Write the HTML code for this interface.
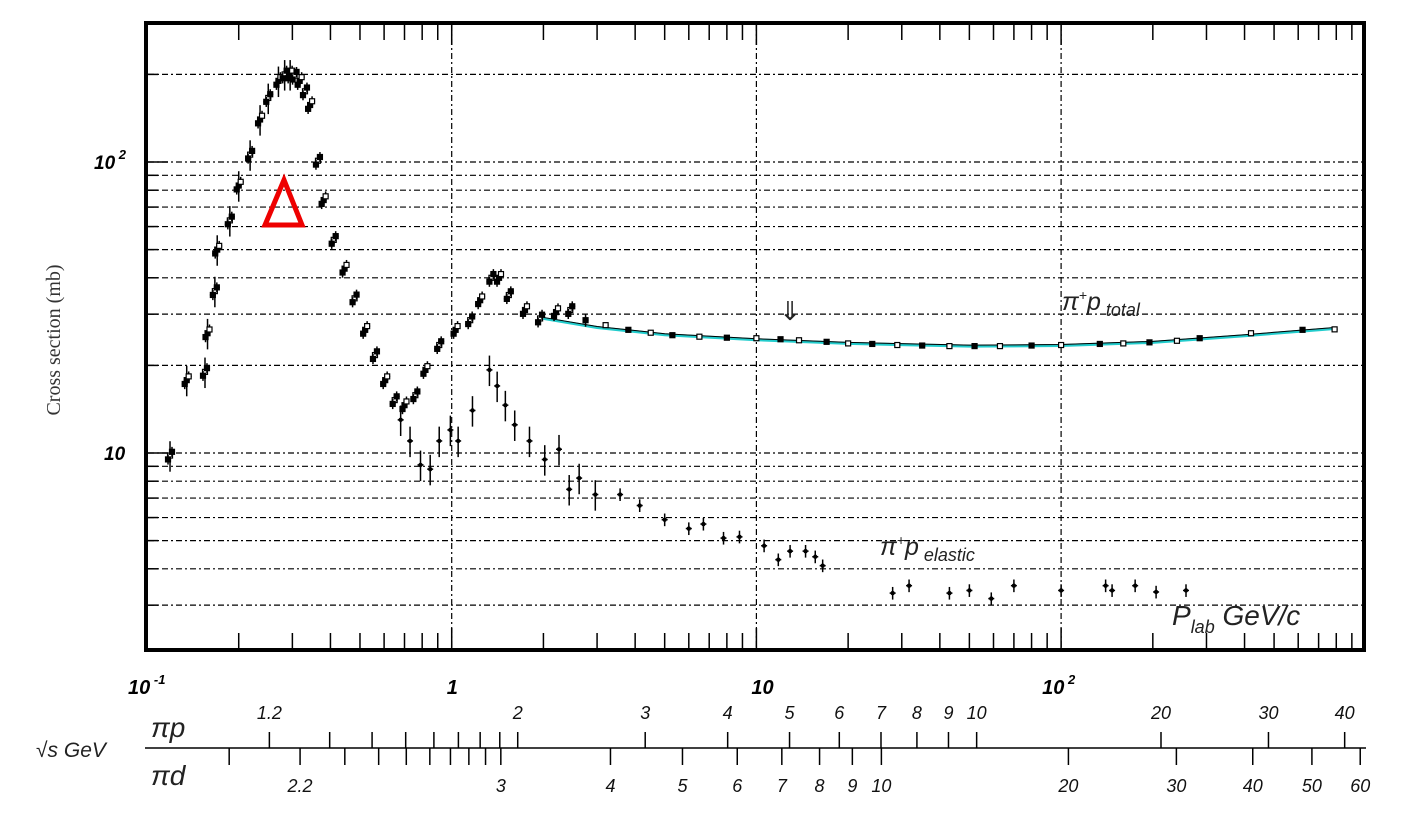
<!DOCTYPE html>
<html><head><meta charset="utf-8"><style>
html,body{margin:0;padding:0;background:#fff;}
svg{display:block;font-family:"Liberation Sans",sans-serif;}
</style></head><body>
<svg id="chart" width="1401" height="817" viewBox="0 0 1401 817" xmlns="http://www.w3.org/2000/svg">
<g id="grid"></g>
<g id="series"></g>
<rect x="146" y="23" width="1218" height="627" fill="none" stroke="#000" stroke-width="4"/>
<g id="frameticks"></g>
<text transform="translate(60,340) rotate(-90)" text-anchor="middle" font-family="Liberation Serif,serif" font-size="20" fill="#333">Cross section (mb)</text>
<g id="labels"></g>
<g id="sqrts"></g>
<polygon points="284,180 265,225 302,225" fill="none" stroke="#e00" stroke-width="5"/>
<text x="1062" y="310" font-size="25" font-style="italic" fill="#222">π<tspan dy="-10" font-size="14">+</tspan><tspan dy="10">p</tspan><tspan dy="6" font-size="18"> total</tspan></text>
<text x="880" y="555" font-size="25" font-style="italic" fill="#222">π<tspan dy="-10" font-size="14">+</tspan><tspan dy="10">p</tspan><tspan dy="6" font-size="18"> elastic</tspan></text>
<text x="1172" y="625" font-size="28" font-style="italic" fill="#222">P<tspan dy="8" font-size="18">lab</tspan><tspan dy="-8"> GeV/c</tspan></text>
<text x="790" y="320" font-size="26" text-anchor="middle" fill="#222">⇓</text>
</svg>
<script>
const NS="http://www.w3.org/2000/svg";
// data
const totalP=[0.119,0.135,0.155,0.158,0.167,0.17,0.187,0.20,0.218,0.235,0.25,0.27,0.283,0.295,0.305,0.317,0.33,0.343,0.364,0.38,0.41,0.445,0.48,0.52,0.56,0.605,0.65,0.7,0.76,0.82,0.91,1.03,1.15,1.24,1.35,1.43,1.54,1.74,1.95,2.2,2.45,2.75,3.2,3.8,4.5,5.3,6.5,8,10,12,13.8,17,20,24,29,35,43,52,63,80,100,134,160,195,240,285,420,620,790];
const totalS=[9.8,17.8,19,25.8,36,50,63,83,106,140,166,190,200,200,198,190,175,157,101,74,54,43,34,26.5,21.7,17.8,15.2,14.6,15.8,19.3,23.5,26.5,28.6,33.5,40,40,34.9,31,29,30.5,31,28.6,27.5,26.5,25.9,25.4,25.1,24.9,24.8,24.6,24.4,24.1,23.8,23.7,23.5,23.4,23.3,23.3,23.3,23.4,23.5,23.7,23.8,24,24.3,24.8,25.8,26.5,26.6];
const fitP=[2,3,5,10,20,50,100,200,400,800];
const fitS=[29,27,25.5,24.5,23.8,23.3,23.4,24,25.3,26.8];
const elP=[0.68,0.73,0.79,0.85,0.91,0.99,1.05,1.17,1.33,1.41,1.5,1.61,1.8,2.02,2.25,2.43,2.62,2.96,3.57,4.14,5,6.0,6.7,7.8,8.8,10.6,11.8,12.9,14.5,15.6,16.5,28,31.7,43,50,59,70,100,140,147,175,205,257];
const elS=[13,11,9.1,8.8,11,12,11,14,19.3,17,14.6,12.5,11,9.5,10.3,7.5,8.2,7.2,7.2,6.6,5.9,5.5,5.7,5.1,5.15,4.8,4.3,4.6,4.6,4.4,4.1,3.3,3.5,3.3,3.37,3.16,3.5,3.37,3.5,3.37,3.5,3.33,3.37];
const yGrid=[3,4,5,6,7,8,9,10,20,30,40,50,60,70,80,90,100,200];
const xGrid=[1,10,100];
const xLabels=[[0.1,"10","-1"],[1,"1",""],[10,"10",""],[100,"10","2"]];
const ppLabels=[1.2,2,3,4,5,6,7,8,9,10,20,30,40];
const ppTicks=[1.2,1.3,1.4,1.5,1.6,1.7,1.8,1.9,2,3,4,5,6,7,8,9,10,20,30,40];
const pdLabels=[2.2,3,4,5,6,7,8,9,10,20,30,40,50,60];
const pdTicks=[2.1,2.2,2.3,2.4,2.5,2.6,2.7,2.8,2.9,3,4,5,6,7,8,9,10,20,30,40,50,60];

const X=p=>147+304.7*(Math.log10(p)+1);
const Y=s=>453-291*(Math.log10(s)-1);
function mk(tag,attrs,parent){const e=document.createElementNS(NS,tag);for(const k in attrs)e.setAttribute(k,attrs[k]);parent.appendChild(e);return e;}
const grid=document.getElementById('grid'),ser=document.getElementById('series'),ft=document.getElementById('frameticks'),lab=document.getElementById('labels'),sq=document.getElementById('sqrts');
yGrid.forEach(v=>{const l=mk('line',{x1:148,x2:1362,y1:Y(v),y2:Y(v),stroke:'#000','stroke-width':1.2,'stroke-dasharray':'6,3,2,3'},grid);

});
xGrid.forEach(v=>{const l=mk('line',{x1:X(v),x2:X(v),y1:25,y2:648,stroke:'#000','stroke-width':1.2,'stroke-dasharray':'6,3,2,3'},grid);

});
for(let d=-1;d<3;d++)for(let m=1;m<10;m++){const x=X(m*Math.pow(10,d));const L=m==1?20:15;
mk('line',{x1:x,x2:x,y1:25,y2:25+L,stroke:'#000','stroke-width':1.5},ft);
mk('line',{x1:x,x2:x,y1:648,y2:648-L,stroke:'#000','stroke-width':1.5},ft);}
[3,4,5,6,7,8,9,10,20,30,40,50,60,70,80,90,100,200].forEach(v=>{const L=(v==10||v==100)?20:10;
mk('line',{x1:148,x2:148+L,y1:Y(v),y2:Y(v),stroke:'#000','stroke-width':1.5},ft);});
[[100,"10","2"],[10,"10",""]].forEach(([v,b,e])=>{const t=mk('text',{x:e?94:104,y:Y(v)+7,'font-size':19,'font-weight':'bold','font-style':'italic'},lab);t.textContent=b;
if(e){const s=mk('tspan',{dy:-10,'font-size':13},t);s.textContent=" "+e;}

});
xLabels.forEach(([v,b,e])=>{const t=mk('text',{x:X(v)-(e?19:5),y:694,'font-size':20,'font-weight':'bold','font-style':'italic'},lab);t.textContent=b;
if(e){const s=mk('tspan',{dy:-10,'font-size':13},t);s.textContent=" "+e;}

});
const fit=mk('polyline',{points:fitP.map((p,i)=>X(p)+','+Y(fitS[i])).join(' '),fill:'none',stroke:'#22cccc','stroke-width':3},ser);


const fit2=mk('polyline',{points:fitP.map((p,i)=>X(p)+','+(Y(fitS[i])-1)).join(' '),fill:'none',stroke:'#000','stroke-width':1},ser);


function point(p,s,open,err,name){const x=X(p),y=Y(s);const g=mk('g',{},ser);


mk('line',{x1:x,x2:x,y1:Y(s*(1+err)),y2:Y(s*(1-err)),stroke:'#000','stroke-width':1.5},g);
mk('line',{x1:x-3,x2:x+3,y1:y,y2:y,stroke:'#000','stroke-width':1.5},g);
mk('rect',{x:x-2.5,y:y-2.5,width:5,height:5,fill:open?'#fff':'#000',stroke:'#000','stroke-width':1.2},g);}
totalP.forEach((p,i)=>{const e=p<0.3?0.12:(p<3?0.05:0.02);point(p,totalS[i],i%2==0,e,'total-point');
if(p<2.5){point(p*1.015,totalS[i]*1.03,i%2==1,0.04,'total-point');point(p*0.985,totalS[i]*0.97,false,0.04,'total-point');}});
elP.forEach((p,i)=>{const x=X(p),y=Y(elS[i]);const g=mk('g',{},ser);


const e=p<3?0.12:0.05;
mk('line',{x1:x,x2:x,y1:Y(elS[i]*(1+e)),y2:Y(elS[i]*(1-e)),stroke:'#000','stroke-width':1.5},g);
mk('line',{x1:x-3,x2:x+3,y1:y,y2:y,stroke:'#000','stroke-width':1.5},g);
mk('circle',{cx:x,cy:y,r:2.2,fill:'#000'},g);});
const mp=0.938,mpi=0.1396,md=1.8756;
const pFor=(rs,M)=>{const E=(rs*rs-M*M-mpi*mpi)/(2*M);return Math.sqrt(E*E-mpi*mpi);};
const al=mk('line',{x1:145,x2:1366,y1:748,y2:748,stroke:'#000','stroke-width':1.5},sq);


ppTicks.forEach(v=>{const x=X(pFor(v,mp));mk('line',{x1:x,x2:x,y1:732,y2:748,stroke:'#000','stroke-width':1.5},sq);});
pdTicks.forEach(v=>{const x=X(pFor(v,md));mk('line',{x1:x,x2:x,y1:748,y2:765,stroke:'#000','stroke-width':1.5},sq);});
ppLabels.forEach(v=>{const t=mk('text',{x:X(pFor(v,mp)),y:719,'font-size':18,'font-style':'italic','text-anchor':'middle',fill:'#111'},sq);t.textContent=String(v);

});
pdLabels.forEach(v=>{const t=mk('text',{x:X(pFor(v,md)),y:792,'font-size':18,'font-style':'italic','text-anchor':'middle',fill:'#111'},sq);t.textContent=String(v);

});
[["πp",151,737],["πd",151,785],["√s GeV",36,757]].forEach(([s,x,y])=>{const t=mk('text',{x:x,y:y,'font-size':s.length>2?21:28,'font-style':'italic',fill:'#222'},sq);t.textContent=s;

});
</script>
</body></html>
